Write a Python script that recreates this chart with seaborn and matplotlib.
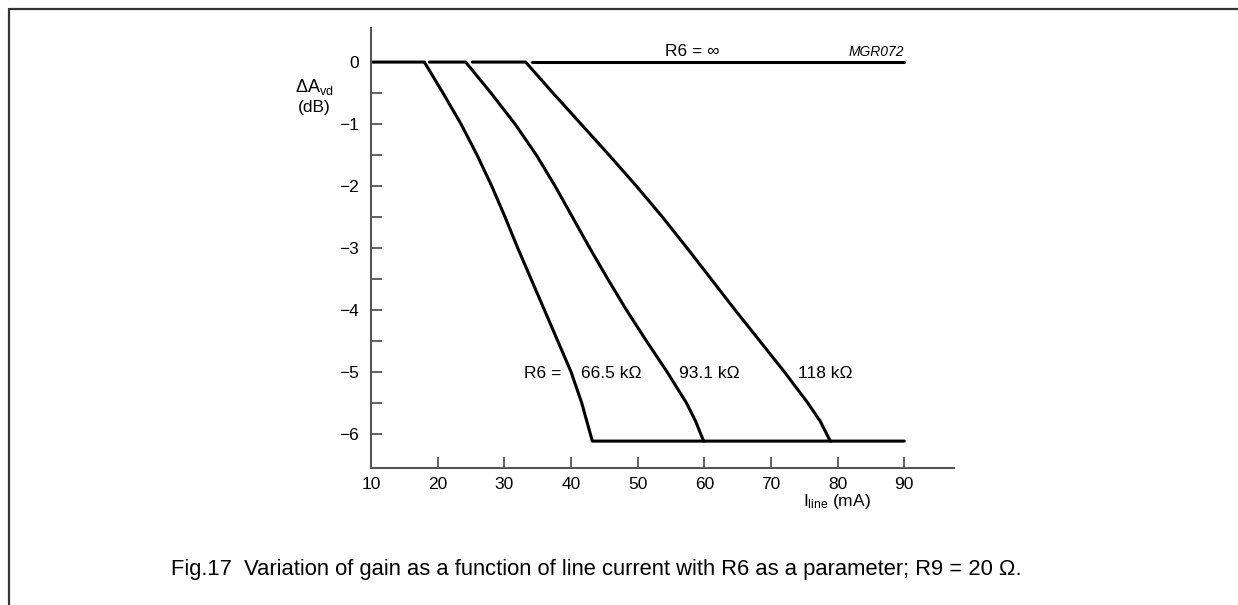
import matplotlib
matplotlib.use("Agg")
import matplotlib.pyplot as plt
import seaborn as sns
from matplotlib.lines import Line2D

# line current (mA) / gain change (dB)
x_665 = [10, 18.0, 20.8, 23.5, 25.9, 28.1, 30.1, 32.0, 34.0, 36.0, 38.0, 40.0, 41.6, 43.2, 60.0]
y_665 = [0, 0, -0.5, -1.0, -1.5, -2.0, -2.5, -3.0, -3.5, -4.0, -4.5, -5.0, -5.5, -6.12, -6.12]

x_931 = [18.75, 24.2, 28.0, 31.6, 34.8, 37.6, 40.2, 42.8, 45.5, 48.3, 51.3, 54.4, 57.3, 58.7, 59.9, 79.0]
y_931 = [0, 0, -0.5, -1.0, -1.5, -2.0, -2.5, -3.0, -3.5, -4.0, -4.5, -5.0, -5.5, -5.8, -6.12, -6.12]

x_118 = [25.2, 33.2, 37.3, 41.5, 45.7, 49.8, 53.7, 57.4, 61.0, 64.6, 68.3, 72.0, 75.5, 77.4, 78.9, 90.0]
y_118 = [0, 0, -0.5, -1.0, -1.5, -2.0, -2.5, -3.0, -3.5, -4.0, -4.5, -5.0, -5.5, -5.8, -6.12, -6.12]

x_inf = [34.1, 90.0]
y_inf = [0, 0]

x_ticks = [10, 20, 30, 40, 50, 60, 70, 80, 90]
y_ticks = [0, -1, -2, -3, -4, -5, -6]
y_minor = [-0.5, -1.5, -2.5, -3.5, -4.5, -5.5]


def main():
    sns.set_style("ticks")
    plt.rcParams["font.family"] = ["Liberation Sans", "DejaVu Sans"]
    plt.rcParams["mathtext.fontset"] = "custom"
    plt.rcParams["mathtext.rm"] = "Liberation Sans"
    plt.rcParams["text.color"] = "black"
    plt.rcParams["xtick.labelcolor"] = "black"
    plt.rcParams["ytick.labelcolor"] = "black"

    fig = plt.figure(figsize=(12.38, 6.05), dpi=100)
    ax = fig.add_axes([0.2997, 0.2269, 0.4711, 0.7268])

    for xs, ys in [(x_665, y_665), (x_931, y_931), (x_118, y_118), (x_inf, y_inf)]:
        sns.lineplot(x=xs, y=ys, sort=False, estimator=None, color="black",
                     lw=2.2, ax=ax)

    ax.set_xlim(10, 97.5)
    ax.set_ylim(-6.55, 0.55)
    ax.set_xticks(x_ticks)
    ax.set_yticks(y_ticks)
    ax.set_yticks(y_minor, minor=True)
    ax.tick_params(axis="both", which="both", direction="in", length=8,
                   width=1.3, color="#555555", labelsize=12.5, labelcolor="black")
    ax.tick_params(axis="y", pad=9)
    ax.tick_params(axis="x", pad=7)
    sns.despine(ax=ax)
    for side in ["left", "bottom"]:
        ax.spines[side].set_color("#555555")
        ax.spines[side].set_linewidth(1.5)

    # curve labels
    ax.text(54.1, 0.05, "R6 = \u221e", fontsize=12.5, va="bottom", ha="left")
    ax.text(90, 0.05, "MGR072", fontsize=10, style="italic", va="bottom", ha="right")
    ax.text(32.9, -5.03, "R6 =", fontsize=12.5, va="center", ha="left")
    ax.text(41.5, -5.03, "66.5 k\u03a9", fontsize=12.5, va="center", ha="left")
    ax.text(56.2, -5.03, "93.1 k\u03a9", fontsize=12.5, va="center", ha="left")
    ax.text(74.1, -5.03, "118 k\u03a9", fontsize=12.5, va="center", ha="left")

    # axis titles
    ax.text(1.5, -0.41, r"$\Delta\mathregular{A_{vd}}$", fontsize=13, ha="center", va="center")
    ax.text(1.5, -0.73, "(dB)", fontsize=12.5, ha="center", va="center")
    ax.text(74.8, -6.95, r"$\mathregular{I_{line}}$ (mA)", fontsize=12.5, ha="left", va="top")

    fig.text(0.138, 0.058, "Fig.17  Variation of gain as a function of line current with R6 as a parameter; R9 = 20 \u03a9.",
             fontsize=15.8, ha="left", va="center")

    # frame lines (top and left only)
    fig.add_artist(Line2D([0.0073, 1.0], [0.985, 0.985], transform=fig.transFigure,
                          color="#333333", lw=1.6))
    fig.add_artist(Line2D([0.0073, 0.0073], [0.0, 0.985], transform=fig.transFigure,
                          color="#333333", lw=1.6))

    fig.savefig("out.png", dpi=100)


if __name__ == "__main__":
    main()
